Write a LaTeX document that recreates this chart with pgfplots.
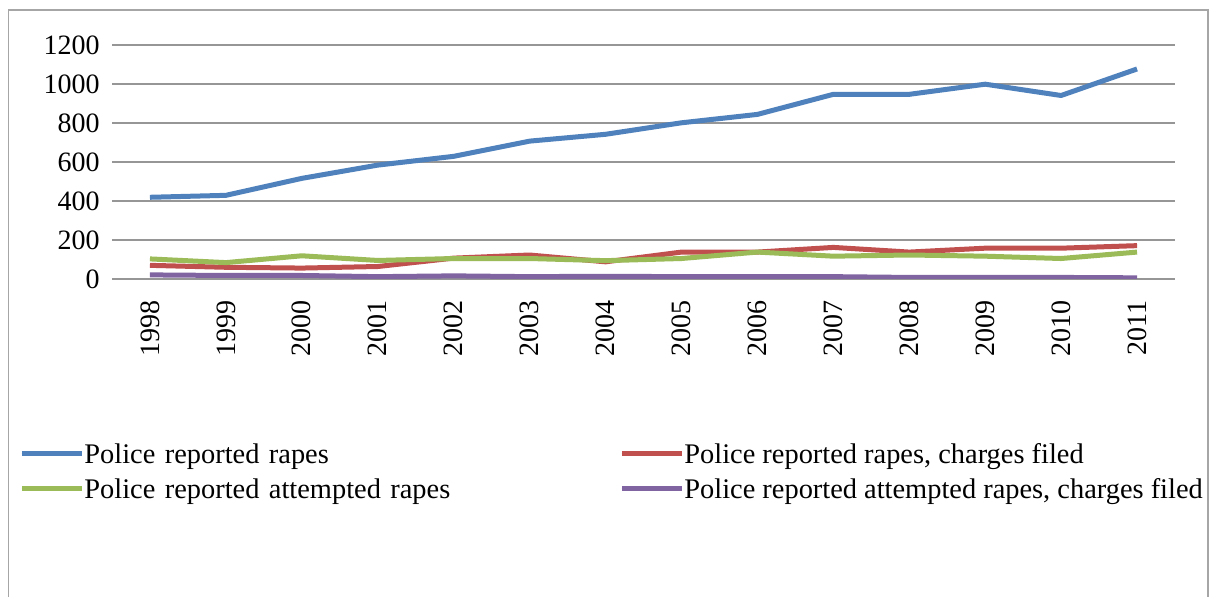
\documentclass[border=0pt]{standalone}
\usepackage{fontspec}
\setmainfont{Liberation Serif}
\usepackage{pgfplots}
\pgfplotsset{compat=1.18}
\definecolor{cblue}{HTML}{4F81BD}
\definecolor{cred}{HTML}{C0504D}
\definecolor{cgreen}{HTML}{9BBB59}
\definecolor{cpurple}{HTML}{8064A2}
\definecolor{gridgray}{HTML}{969696}
\definecolor{framegray}{HTML}{A6A6A6}
\begin{document}
\begin{tikzpicture}
\path[use as bounding box, clip] (-56pt,-159pt) rectangle (548.5pt,139.5pt);
\begin{axis}[
  at={(0pt,0pt)}, anchor=south west,
  scale only axis, width=531.5pt, height=117pt,
  xmin=-0.5, xmax=13.5, ymin=0, ymax=1200,
  xtick={0,...,13},
  xticklabels={1998,1999,2000,2001,2002,2003,2004,2005,2006,2007,2008,2009,2010,2011},
  ytick={0,200,...,1200},
  major tick length=0pt,
  axis line style={draw=none},
  ymajorgrids, grid style={gridgray, line width=0.7pt},
  /pgf/number format/assume math mode=true,
  /pgf/number format/1000 sep={},
  yticklabel style={font=\fontsize{14}{16}\selectfont, inner sep=0pt, anchor=east, xshift=-6pt},
  xticklabel style={font=\fontsize{14}{16}\selectfont, inner sep=0pt, rotate=90, anchor=east, xshift=-10.5pt},
  legend columns=2,
  legend style={at={(-0.0871,-0.7009)}, anchor=north west, draw=none, fill=none,
    inner sep=0pt, outer sep=0pt,
    font=\fontsize{14.2}{16}\selectfont,
    nodes={inner sep=0pt, text height=10pt, text depth=3pt, anchor=base west},
    column sep=0pt, row sep=4.5pt,
    /tikz/column 2/.style={text width=267.5pt}},
  legend cell align=left,
  legend image code/.code={\path (0pt,5pt) -- (30pt,5pt);
    \draw[#1, line cap=round] (1.25pt,5pt) -- (26.25pt,5pt);},
  every axis plot/.append style={line width=2.5pt, line join=round, no marks},
]
\addplot[cblue] coordinates {(0,419) (1,429) (2,516) (3,584) (4,629) (5,707) (6,742) (7,801) (8,844) (9,947) (10,947) (11,999) (12,941) (13,1077)};
\addlegendentry{Police reported rapes}
\addplot[cred] coordinates {(0,70) (1,60) (2,56) (3,64) (4,107) (5,123) (6,88) (7,138) (8,138) (9,162) (10,138) (11,158) (12,158) (13,171)};
\addlegendentry{Police reported rapes, charges filed}
\addplot[cgreen] coordinates {(0,103) (1,84) (2,119) (3,95) (4,105) (5,105) (6,94) (7,105) (8,138) (9,117) (10,123) (11,117) (12,105) (13,138)};
\addlegendentry{Police reported attempted rapes}
\addplot[cpurple] coordinates {(0,21) (1,18) (2,18) (3,12) (4,16) (5,12) (6,14) (7,12) (8,12) (9,12) (10,8) (11,8) (12,8) (13,6)};
\addlegendentry{Police reported attempted rapes, charges filed}
\end{axis}
\draw[framegray, line width=0.6pt] (-51.75pt,-200pt) -- (-51.75pt,134.5pt) -- (548pt,134.5pt) -- (548pt,-200pt);
\end{tikzpicture}
\end{document}
